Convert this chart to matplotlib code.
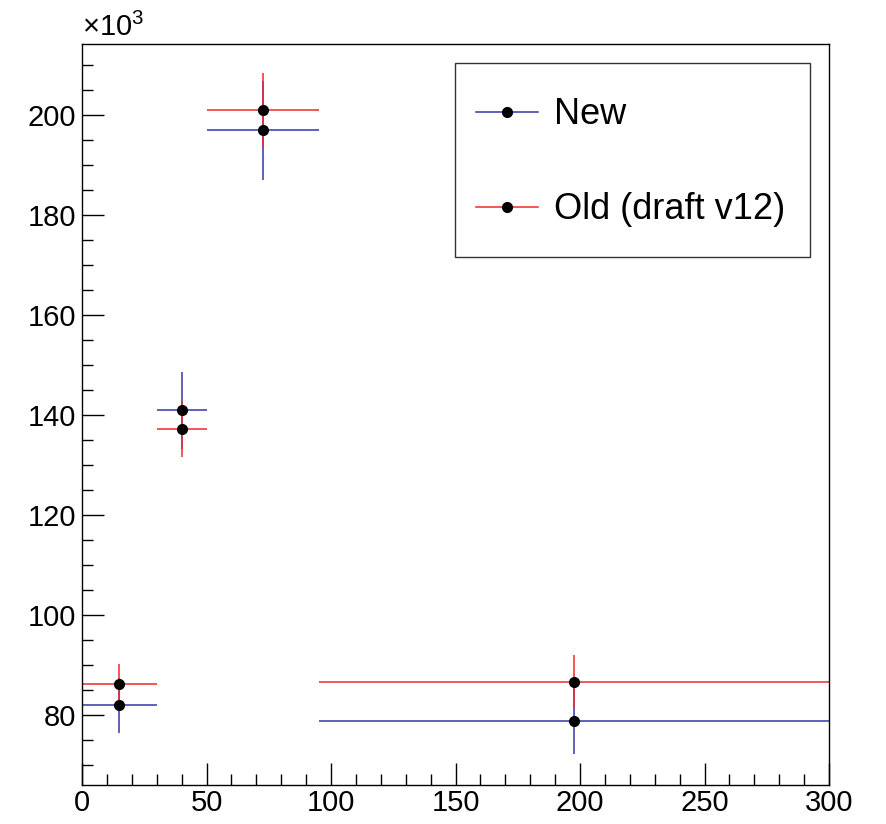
import numpy as np
import matplotlib
matplotlib.use('Agg')
import matplotlib.pyplot as plt
from matplotlib.lines import Line2D
from matplotlib.legend_handler import HandlerLine2D
from matplotlib.ticker import MultipleLocator

plt.rcParams['font.family'] = ['Liberation Sans', 'DejaVu Sans']
plt.rcParams['mathtext.fontset'] = 'custom'
plt.rcParams['mathtext.rm'] = 'Liberation Sans'

# bins (x centre and half widths), values in units of 10^3
x_new = [15, 40, 72.5, 197.5]
xerr_lo = [15, 10, 22.5, 102.5]
xerr_hi = [15, 10, 22.5, 102.5]
y_new = [82.0, 141.0, 197.0, 78.9]
yerr_new = [5.5, 7.7, 9.9, 6.6]

y_old = [86.3, 137.3, 201.1, 86.7]
yerr_old = [3.9, 5.6, 7.4, 5.3]

labels = ['New', 'Old (draft v12)']


class LowerLine(HandlerLine2D):
    # put the legend line level with the text
    def create_artists(self, *args, **kw):
        arts = super().create_artists(*args, **kw)
        for a in arts:
            a.set_ydata(np.asarray(a.get_ydata()) - 5.8)
        return arts


fig = plt.figure(figsize=(8.86, 8.24), dpi=100)
ax = fig.add_axes([0.0926, 0.0473, 0.8431, 0.8993])

blue = '#3535a8'
red = '#f02a2a'

ax.errorbar(x_new, y_new, xerr=[xerr_lo, xerr_hi], yerr=yerr_new, fmt='o',
            color='black', ecolor=blue, elinewidth=1.1, capsize=0, ms=7)
ax.errorbar(x_new, y_old, xerr=[xerr_lo, xerr_hi], yerr=yerr_old, fmt='o',
            color='black', ecolor=red, elinewidth=1.1, capsize=0, ms=7)

ax.set_xlim(0, 300)
ax.set_ylim(66, 214.2)
ax.xaxis.set_major_locator(MultipleLocator(50))
ax.xaxis.set_minor_locator(MultipleLocator(10))
ax.yaxis.set_major_locator(MultipleLocator(20))
ax.yaxis.set_minor_locator(MultipleLocator(5))
ax.tick_params(which='both', direction='in', top=False, right=False,
               labelsize=21, width=1)
ax.tick_params(which='major', length=16)
ax.tick_params(which='minor', length=8)
ax.tick_params(axis='x', which='major', pad=3)
ax.tick_params(axis='y', which='major', pad=4)
for s in ax.spines.values():
    s.set_linewidth(1)

ax.text(0, 1.003, r'$\times$10$^3$', transform=ax.transAxes, fontsize=21,
        ha='left', va='bottom')

handles = [Line2D([], [], color=blue, lw=1.1, marker='o', mfc='black',
                  mec='black', ms=7),
           Line2D([], [], color=red, lw=1.1, marker='o', mfc='black',
                  mec='black', ms=7)]
leg = ax.legend(handles, labels, loc='upper left',
                bbox_to_anchor=(0.499, 0.711, 0.476, 0.264), mode='expand',
                borderaxespad=0, fontsize=26, frameon=True, fancybox=False,
                edgecolor='black', labelspacing=1.1, borderpad=0.6,
                handlelength=1.7, handleheight=2.0, handletextpad=0.45,
                handler_map={Line2D: LowerLine()})
leg.get_frame().set_linewidth(1)

plt.savefig('out.png', dpi=100)
